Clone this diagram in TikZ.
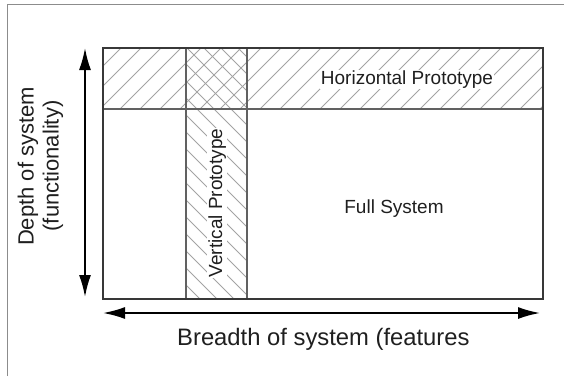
\documentclass[tikz,border=0pt]{standalone}
\usepackage{fontspec}
\setmainfont{Liberation Sans}
\usetikzlibrary{arrows.meta}
\begin{document}
\begin{tikzpicture}[x=1pt,y=-1pt,
  pageframe/.style={draw=black!45, line width=1pt},
  frame/.style={draw=black!78, line width=1.8pt},
  divider/.style={draw=black!62, line width=1.1pt},
  hatchline/.style={draw=black!36, line width=0.75pt},
  lbl/.style={text=black!88, inner sep=1pt, font=\fontsize{19}{22}\selectfont},
  axislbl/.style={text=black!88, inner sep=0pt, font=\fontsize{22}{25}\selectfont},
  axis/.style={draw=black, line width=1.8pt,
    {Latex[length=22pt,width=12pt]}-{Latex[length=22pt,width=12pt]}}
]
\useasboundingbox (0,0) rectangle (564,376);

% page frame (top and left edges)
\draw[pageframe] (7,376) -- (7,4) -- (564,4);

% hatching of the horizontal prototype band
\begin{scope}
  \clip (102,47) rectangle (542,109);
  \foreach \i in {0,...,27}
    \draw[hatchline] ({40+\i*20},109) -- ++(62,-62);
\end{scope}

% hatching of the vertical prototype band
\begin{scope}
  \clip (186,47) rectangle (247,298);
  \foreach \j in {-5,...,16}
    \draw[hatchline] (186,{47+\j*17}) -- ++(70,70);
\end{scope}

% band boundaries
\draw[divider] (102,109) -- (542,109);
\draw[divider] (186,47) -- (186,298);
\draw[divider] (247,47) -- (247,298);

% full system outline
\node[frame, anchor=north west, minimum width=440pt, minimum height=251pt, inner sep=0pt]
  (system) at (102,47) {};

% labels inside the system
\node[lbl, fill=white, anchor=base] (hproto) at (407,84.5) {Horizontal Prototype};
\node[lbl, anchor=base] (full) at (394,213.3) {Full System};
\node[lbl, fill=white, rotate=90, anchor=base] (vproto) at (222,203) {Vertical Prototype};

% axes
\coordinate (dtop) at (85,48);
\coordinate (dbot) at (85,297);
\coordinate (bleft) at (103,313);
\coordinate (bright) at (540,313);
\draw[axis] (dtop) -- (dbot);
\draw[axis] (bleft) -- (bright);

% axis labels
\node[axislbl, rotate=90, anchor=base] (depth) at (33.5,166.5) {Depth of system};
\node[axislbl, rotate=90, anchor=base] (func) at (58.5,166) {(functionality)};
\node[axislbl, font=\fontsize{23.8}{27}\selectfont, anchor=base west] (breadth) at (177,345)
  {Breadth of system (features};
\end{tikzpicture}
\end{document}
